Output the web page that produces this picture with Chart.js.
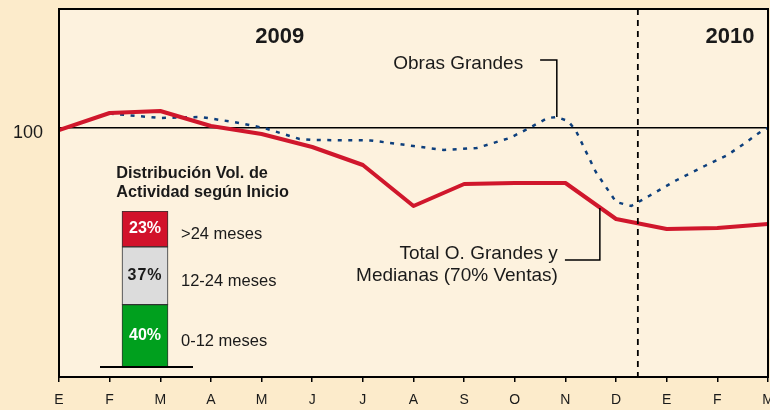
<!DOCTYPE html>
<html lang="es">
<head>
  <meta charset="UTF-8">
  <title>Actividad Obras Grandes y Medianas</title>
  <script src="https://cdn.jsdelivr.net/npm/chart.js"></script>
  <style>
    body { margin: 0; background: #fcebcb; }
    .wrap { position: relative; width: 770px; height: 410px; }
    #inset { position: absolute; left: 100px; top: 200px; }
  </style>
</head>
<body>
  <div class="wrap">
    <canvas id="grafico" width="770" height="410"></canvas>
    <canvas id="inset" width="230" height="170"></canvas>
  </div>

  <script>
    // meses ene-2009 .. mar-2010
    const meses = ['E', 'F', 'M', 'A', 'M', 'J', 'J', 'A', 'S', 'O', 'N', 'D', 'E', 'F', 'M'];

    // Total O. Grandes y Medianas (indice, 100 = ene-2009)
    const totalGrandesMedianas = [99.5, 103.75, 104.25, 100.5, 98.5, 95.25, 90.75, 80.5, 86, 86.25, 86.25, 77.25, 74.75, 75, 76];

    // Obras Grandes (posicion en meses, indice)
    const obrasGrandesX = [1, 2, 2.8, 3.45, 4.05, 4.75, 5, 6.15, 7, 7.6, 8.25, 8.9, 9.25, 9.65, 9.83, 10.05, 10.2, 10.6, 11, 11.3, 11.65, 12.2, 12.75, 13.2, 13.55, 13.9, 14];
    const obrasGrandesY = [103.6, 102.5, 102.75, 101.5, 100, 97.25, 97, 96.9, 95.5, 94.5, 95, 97.5, 99.75, 102.5, 102.75, 101.75, 99.5, 89, 81.5, 80.5, 83, 87, 90.5, 93.25, 96.25, 99.5, 100];

    // distribucion vol. de actividad segun inicio
    const tramos = ['0-12 meses', '12-24 meses', '>24 meses'];
    const tramosPct = [40, 37, 23];
  </script>

  <script>
    const FUENTE = "'Liberation Sans', Arial, sans-serif";
    const TEXTO = '#1a1a1a';

    const fondoYTextos = {
      id: 'fondoYTextos',
      beforeDraw(chart) {
        const { ctx, chartArea: a } = chart;
        ctx.save();
        ctx.fillStyle = '#fdf2de';
        ctx.fillRect(a.left, a.top, a.right - a.left, a.bottom - a.top);
        ctx.restore();
      },
      afterDraw(chart) {
        const { ctx, chartArea: a, scales: { x, y } } = chart;
        const px = v => x.getPixelForValue(v);
        const py = v => y.getPixelForValue(v);
        ctx.save();

        // marco
        ctx.strokeStyle = '#000';
        ctx.lineWidth = 2;
        ctx.strokeRect(a.left, a.top, a.right - a.left, a.bottom - a.top);

        // corte 2009 / 2010
        ctx.lineWidth = 1.8;
        ctx.setLineDash([6, 5]);
        ctx.beginPath();
        ctx.moveTo(px(11.43), a.top);
        ctx.lineTo(px(11.43), a.bottom);
        ctx.stroke();
        ctx.setLineDash([]);

        // lineas de las etiquetas
        ctx.lineWidth = 1.5;
        ctx.beginPath();
        ctx.moveTo(px(9.5), py(117));
        ctx.lineTo(px(9.83), py(117));
        ctx.lineTo(px(9.83), py(102.75));
        ctx.moveTo(px(9.99), py(67));
        ctx.lineTo(px(10.68), py(67));
        ctx.lineTo(px(10.68), py(80));
        ctx.stroke();

        ctx.fillStyle = TEXTO;
        ctx.textBaseline = 'alphabetic';

        ctx.font = 'bold 22px ' + FUENTE;
        ctx.textAlign = 'center';
        ctx.fillText('2009', px(4.36), py(121.25));
        ctx.fillText('2010', px(13.25), py(121.25));

        ctx.font = '19px ' + FUENTE;
        ctx.textAlign = 'left';
        ctx.fillText('Obras Grandes', px(6.6), py(114.75));
        ctx.textAlign = 'right';
        ctx.fillText('Total O. Grandes y', px(9.85), py(67.25));
        ctx.fillText('Medianas (70% Ventas)', px(9.85), py(61.75));

        ctx.font = 'bold 16.3px ' + FUENTE;
        ctx.textAlign = 'left';
        ctx.fillText('Distribución Vol. de', px(1.13), py(87.5));
        ctx.fillText('Actividad según Inicio', px(1.13), py(82.75));

        ctx.restore();
      }
    };

    new Chart(document.getElementById('grafico'), {
      type: 'line',
      data: {
        datasets: [
          {
            label: 'Total O. Grandes y Medianas (70% Ventas)',
            data: totalGrandesMedianas.map((v, i) => ({ x: i, y: v })),
            borderColor: '#d0172c',
            borderWidth: 4,
            pointRadius: 0,
            borderJoinStyle: 'round',
            order: 0
          },
          {
            label: 'Obras Grandes',
            data: obrasGrandesX.map((m, i) => ({ x: m, y: obrasGrandesY[i] })),
            borderColor: '#0d3f7c',
            borderWidth: 2.5,
            borderDash: [4, 6.5],
            pointRadius: 0,
            order: 1
          }
        ]
      },
      options: {
        responsive: false,
        animation: false,
        devicePixelRatio: 1,
        layout: { padding: { top: 9, right: 2, left: 0, bottom: 0 } },
        plugins: {
          legend: { display: false },
          tooltip: { enabled: false }
        },
        scales: {
          x: {
            type: 'linear',
            min: 0,
            max: 14,
            afterBuildTicks: s => { s.ticks = meses.map((m, i) => ({ value: i })); },
            afterFit: s => { s.height = 33; s.paddingLeft = 0; s.paddingRight = 0; },
            grid: { drawOnChartArea: false, color: '#000', lineWidth: 1.5, tickLength: 5 },
            border: { color: '#000', width: 2 },
            ticks: {
              autoSkip: false,
              maxRotation: 0,
              padding: 10,
              color: TEXTO,
              font: { family: FUENTE, size: 14 },
              callback: v => meses[v]
            }
          },
          y: {
            min: 37.75,
            max: 129.75,
            afterBuildTicks: s => { s.ticks = [{ value: 100 }]; },
            afterFit: s => { s.width = 59; s.paddingTop = 0; s.paddingBottom = 0; },
            grid: { color: '#000', lineWidth: 1.5, drawTicks: false },
            border: { color: '#000', width: 2 },
            ticks: {
              padding: 16,
              labelOffset: 5,
              color: TEXTO,
              font: { family: FUENTE, size: 18 }
            }
          }
        }
      },
      plugins: [fondoYTextos]
    });

    // barra de distribucion
    const coloresTramo = ['#00a01e', '#dcdcdc', '#d2122b'];
    const colorPct = ['#ffffff', '#1a1a1a', '#ffffff'];

    const etiquetasTramo = {
      id: 'etiquetasTramo',
      afterDatasetsDraw(chart) {
        const ctx = chart.ctx;
        ctx.save();
        let barra;
        chart.data.datasets.forEach((ds, i) => {
          barra = chart.getDatasetMeta(i).data[0];
          const yc = (barra.y + barra.base) / 2;
          ctx.textBaseline = 'middle';
          ctx.textAlign = 'center';
          ctx.fillStyle = colorPct[i];
          ctx.font = 'bold 16px ' + FUENTE;
          ctx.letterSpacing = i === 1 ? '1px' : '0px';
          ctx.fillText(tramosPct[i] + '%', barra.x, yc);
          ctx.letterSpacing = '0px';
          ctx.textAlign = 'left';
          ctx.fillStyle = TEXTO;
          ctx.font = '16.5px ' + FUENTE;
          ctx.fillText(tramos[i], barra.x + 36, yc + 6);
        });
        const y0 = chart.scales.y.getPixelForValue(0);
        ctx.strokeStyle = '#000';
        ctx.lineWidth = 2;
        ctx.beginPath();
        ctx.moveTo(barra.x - 45, y0);
        ctx.lineTo(barra.x + 48, y0);
        ctx.stroke();
        ctx.restore();
      }
    };

    new Chart(document.getElementById('inset'), {
      type: 'bar',
      data: {
        labels: [''],
        datasets: tramos.map((t, i) => ({
          label: t,
          data: [tramosPct[i]],
          backgroundColor: coloresTramo[i],
          borderColor: '#333',
          borderWidth: 1,
          borderSkipped: false,
          barThickness: 46
        }))
      },
      options: {
        responsive: false,
        animation: false,
        devicePixelRatio: 1,
        layout: { padding: { top: 11, bottom: 3, left: 0, right: 140 } },
        plugins: {
          legend: { display: false },
          tooltip: { enabled: false }
        },
        scales: {
          x: { stacked: true, display: false },
          y: { stacked: true, display: false, min: 0, max: 100 }
        }
      },
      plugins: [etiquetasTramo]
    });
  </script>
</body>
</html>
